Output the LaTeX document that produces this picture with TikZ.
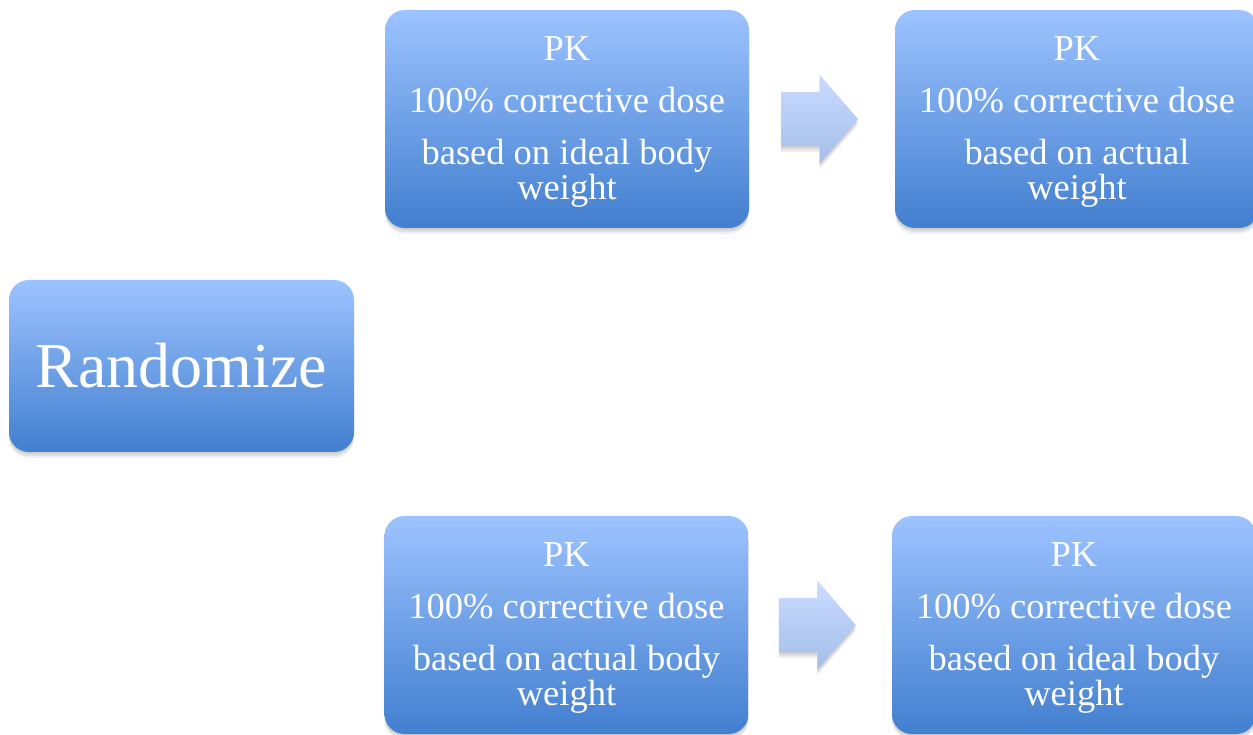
\documentclass[tikz,border=0pt]{standalone}
\usepackage{fontspec}
\setmainfont{Liberation Serif}
\usetikzlibrary{shadows,calc}
\definecolor{btop}{RGB}{157,195,255}
\definecolor{bbot}{RGB}{66,127,207}
\definecolor{atop}{RGB}{202,219,255}
\definecolor{abot}{RGB}{164,190,234}
\newcommand{\toppad}{\rule{0pt}{30pt}}
\begin{document}
\begin{tikzpicture}[x=1pt,y=1pt,
  softshadow/.style={
    preaction={fill=black, opacity=0.07, transform canvas={yshift=-2pt}},
    preaction={fill=black, opacity=0.07, transform canvas={yshift=-4pt}},
    preaction={fill=black, opacity=0.06, transform canvas={yshift=-6pt}}},
  pbox/.style={rounded corners=20pt, top color=btop, bottom color=bbot, draw=none,
    text=white, align=center, inner sep=0pt, minimum width=364pt, minimum height=218pt,
    font=\fontsize{36.5}{35}\selectfont, softshadow},
  rbox/.style={pbox, minimum width=345pt, minimum height=172pt, font=\fontsize{64}{66}\selectfont},
  barrow/.style={top color=atop, bottom color=abot, draw=none, softshadow}]
\useasboundingbox (0,0) rectangle (1253,734);
\clip (0,0) rectangle (1253,734);
\node[rbox] (R) at (181.5,368) {Randomize};
\node[pbox] (A) at (567,615) {\toppad PK\\[17pt]100\% corrective dose\\[17pt]based on ideal body\\weight};
\node[pbox] (B) at (1077,615) {\toppad PK\\[17pt]100\% corrective dose\\[17pt]based on actual\\weight};
\node[pbox] (C) at (566.5,109) {\toppad PK\\[17pt]100\% corrective dose\\[17pt]based on actual body\\weight};
\node[pbox] (D) at (1074,109) {\toppad PK\\[17pt]100\% corrective dose\\[17pt]based on ideal body\\weight};
\coordinate (m1) at ($(A.east)!0.5!(B.west)+(-2.5,0)$);
\coordinate (m2) at ($(C.east)!0.5!(D.west)+(-3,0)$);
\foreach \m in {m1,m2}{
  \begin{scope}[shift={(\m)}]
    \path[barrow] (-38.5,27) -- (0,27) -- (0,44.5) -- (38.5,0) -- (0,-44.5) -- (0,-27) -- (-38.5,-27) -- cycle;
  \end{scope}
}
\end{tikzpicture}
\end{document}
